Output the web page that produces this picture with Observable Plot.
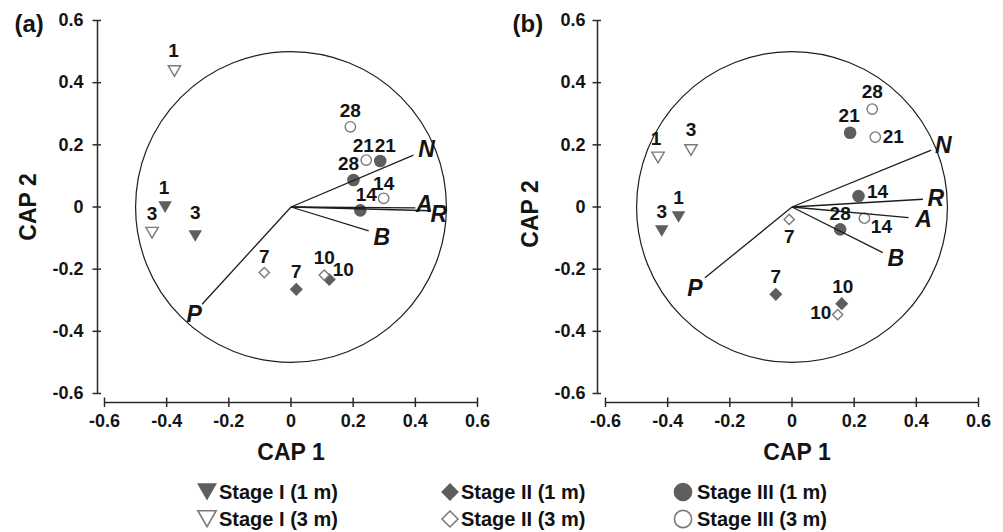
<!DOCTYPE html>
<html>
<head>
<meta charset="utf-8">
<script src="https://cdn.jsdelivr.net/npm/d3@7"></script>
<script src="https://cdn.jsdelivr.net/npm/@observablehq/plot@0.6"></script>
<style>
  html, body { margin: 0; padding: 0; background: #fff; }
  body { width: 1003px; height: 532px; overflow: hidden; font-family: 'Liberation Sans', Arial, Helvetica, sans-serif; }
  #row { display: flex; height: 470px; }
  #legend { position: relative; height: 62px; }
  .item { position: absolute; height: 24px; line-height: 24px; font-size: 20px; font-weight: bold; color: #111; white-space: nowrap; }
  .mk { position: absolute; }
</style>
</head>
<body>
<div id="row"></div>
<div id="legend"></div>
<script>
// ---------------- data ----------------
const groups = ["Stage I (1 m)", "Stage I (3 m)", "Stage II (1 m)", "Stage II (3 m)", "Stage III (1 m)", "Stage III (3 m)"];

const xTicks = [-0.6, -0.4, -0.2, 0, 0.2, 0.4, 0.6];
const xTickLabels = ["-0.6", "-0.4", "-0.2", "0", "0.2", "0.4", "0.6"];
const yTicks = [-0.6, -0.4, -0.2, 0, 0.2, 0.4, 0.6];
const yTickLabels = ["-0.6", "-0.4", "-0.2", "0", "0.2", "0.4", "0.6"];
const circleRadius = 0.5;
const vecNames = ["N", "A", "R", "B", "P"];

// panel (a)
const aGroup = ["Stage I (3 m)", "Stage I (1 m)", "Stage I (3 m)", "Stage I (1 m)",
  "Stage II (3 m)", "Stage II (1 m)", "Stage II (3 m)", "Stage II (1 m)",
  "Stage III (3 m)", "Stage III (3 m)", "Stage III (1 m)", "Stage III (1 m)", "Stage III (3 m)", "Stage III (1 m)"];
const aDay = ["1", "1", "3", "3", "7", "7", "10", "10", "28", "21", "21", "28", "14", "14"];
const aX = [-0.375, -0.405, -0.447, -0.308, -0.086, 0.017, 0.107, 0.123, 0.191, 0.242, 0.287, 0.201, 0.298, 0.223];
const aY = [0.443, 0.006, -0.077, -0.087, -0.211, -0.265, -0.219, -0.233, 0.258, 0.151, 0.148, 0.087, 0.028, -0.011];
const aVecX = [0.394, 0.400, 0.450, 0.250, -0.286];
const aVecY = [0.167, -0.003, -0.012, -0.077, -0.313];

// panel (b)
const bGroup = ["Stage I (3 m)", "Stage I (3 m)", "Stage I (1 m)", "Stage I (1 m)",
  "Stage II (3 m)", "Stage III (1 m)", "Stage III (3 m)", "Stage III (3 m)", "Stage III (1 m)",
  "Stage III (3 m)", "Stage III (1 m)", "Stage II (1 m)", "Stage II (1 m)", "Stage II (3 m)"];
const bDay = ["1", "3", "1", "3", "7", "21", "28", "21", "14", "14", "28", "7", "10", "10"];
const bX = [-0.431, -0.325, -0.365, -0.419, -0.009, 0.187, 0.258, 0.268, 0.214, 0.233, 0.155, -0.052, 0.160, 0.147];
const bY = [0.165, 0.189, -0.026, -0.071, -0.040, 0.239, 0.315, 0.225, 0.035, -0.036, -0.072, -0.281, -0.311, -0.346];
const bVecX = [0.448, 0.375, 0.421, 0.292, -0.280];
const bVecY = [0.183, -0.034, 0.025, -0.147, -0.228];

// ---------------- layout (label placement in pixels) ----------------
const aLabelDx = [-1, -1, 0, 0, 0, 0, 0, 14, 0, -3, 5, -5, 0, 6];
const aLabelDy = [-18, -17, -17, -21, -16, -17, -17, -10, -16, -14, -15, -16, -14, -16];
const aVecDx = [13, 9, 8, 13, -8];
const aVecDy = [-5, -3, 4, 7, 10];
const bLabelDx = [-2, 0, 0, 0, 0, -1, 0, 18, 19, 17, 0, 0, 1, -17];
const bLabelDy = [-17, -18, -17, -17, 17, -17, -17, 0, -4, 9, -15, -17, -17, -2];
const bVecDx = [12, 15, 13, 13, -10];
const bVecDy = [-4, 2, -1, 6, 11];

// ---------------- styles ----------------
const FONT = "'Liberation Sans', Arial, Helvetica, sans-serif";
const DARK = "#5e5e5e", OPEN = "#7a7a7a", INK = "#141414";
const sqrt3 = Math.sqrt(3);
const triangleDown = {
  draw(ctx, size) {
    const y = -Math.sqrt(size / (sqrt3 * 3));
    ctx.moveTo(0, -y * 2);
    ctx.lineTo(-sqrt3 * y, y);
    ctx.lineTo(sqrt3 * y, y);
    ctx.closePath();
  }
};
const hTick = { draw(ctx) { ctx.moveTo(-5, 0); ctx.lineTo(3.5, 0); } };
const vTick = { draw(ctx) { ctx.moveTo(0, -5); ctx.lineTo(0, 4.5); } };

const styles = {
  "Stage I (1 m)":   { symbol: triangleDown, d3sym: triangleDown, fill: DARK, stroke: "none", strokeWidth: 0, r: 5.0, lr: 7.4, ldy: -3 },
  "Stage I (3 m)":   { symbol: triangleDown, d3sym: triangleDown, fill: "white", stroke: OPEN, strokeWidth: 1.4, r: 4.6, lr: 6.8, ldy: -3 },
  "Stage II (1 m)":  { symbol: "diamond2", d3sym: d3.symbolDiamond2, fill: DARK, stroke: "none", strokeWidth: 0, r: 5.9, lr: 8.0, ldy: 0 },
  "Stage II (3 m)":  { symbol: "diamond2", d3sym: d3.symbolDiamond2, fill: "white", stroke: OPEN, strokeWidth: 1.4, r: 4.6, lr: 7.2, ldy: 0 },
  "Stage III (1 m)": { symbol: "circle", d3sym: d3.symbolCircle, fill: DARK, stroke: "none", strokeWidth: 0, r: 6.3, lr: 9.3, ldy: 0 },
  "Stage III (3 m)": { symbol: "circle", d3sym: d3.symbolCircle, fill: "white", stroke: OPEN, strokeWidth: 1.4, r: 5.2, lr: 8.6, ldy: 0 }
};

function panel(cfg) {
  const pts = cfg.group.map((g, i) => ({ g, day: cfg.day[i], x: cfg.x[i], y: cfg.y[i], dx: cfg.ldx[i], dy: cfg.ldy[i] }));
  const vecs = vecNames.map((n, i) => ({ n, x: cfg.vx[i], y: cfg.vy[i], dx: cfg.vdx[i], dy: cfg.vdy[i] }));
  const x0 = xTicks[0], x1 = xTicks[xTicks.length - 1];
  const y0 = yTicks[0], y1 = yTicks[yTicks.length - 1];
  const pxPerUnit = (cfg.width - cfg.ml - cfg.mr) / (x1 - x0);
  const axis = { stroke: "#2a2a2a", strokeWidth: 1.5 };
  const tickText = { fontSize: 18, fontWeight: "bold", fill: INK };

  const marks = [
    Plot.dot([{ x: 0, y: 0 }], { x: "x", y: "y", r: circleRadius * pxPerUnit, fill: "none", stroke: "#1e1e1e", strokeWidth: 1.2 }),
    // y axis
    Plot.ruleX([x0], { y1: y0, y2: y1, dx: cfg.axOffX, ...axis }),
    Plot.dot(yTicks, { x: () => x0, y: d => d, symbol: hTick, dx: cfg.axOffX, fill: "none", ...axis }),
    Plot.text(yTicks, { x: () => x0, y: d => d, text: (d, i) => yTickLabels[i], dx: cfg.axOffX - cfg.yLabGap, textAnchor: "end", ...tickText }),
    // x axis
    Plot.ruleY([y0], { x1: x0, x2: x1, dy: cfg.axOffY, ...axis }),
    Plot.dot(xTicks, { x: d => d, y: () => y0, symbol: vTick, dy: cfg.axOffY, fill: "none", ...axis }),
    Plot.text(xTicks, { x: d => d, y: () => y0, text: (d, i) => xTickLabels[i], dy: 28, ...tickText }),
    // titles
    Plot.text(["CAP 1"], { frameAnchor: "bottom", text: d => d, dx: cfg.t1dx, dy: 59, textAnchor: "middle", lineAnchor: "middle", fontSize: 23, fontWeight: "bold", fill: INK }),
    Plot.text(["CAP 2"], { frameAnchor: "left", text: d => d, rotate: -90, dx: cfg.t2dx, dy: cfg.t2dy, textAnchor: "middle", lineAnchor: "middle", fontSize: 23, fontWeight: "bold", fill: INK }),
    Plot.text([cfg.tag], { frameAnchor: "top-left", text: d => d, dx: cfg.tagX - cfg.ml, dy: 4, textAnchor: "start", lineAnchor: "middle", fontSize: 24, fontWeight: "bold", fill: INK })
  ];
  // points
  for (const g of groups) {
    const s = styles[g];
    marks.push(Plot.dot(pts.filter(p => p.g === g), {
      x: "x", y: "y", symbol: s.symbol, r: s.r, fill: s.fill, stroke: s.stroke, strokeWidth: s.strokeWidth
    }));
  }
  // vectors (drawn over points)
  marks.push(Plot.link(vecs, { x1: () => 0, y1: () => 0, x2: "x", y2: "y", stroke: "#1e1e1e", strokeWidth: 1.3 }));
  for (const v of vecs) {
    marks.push(Plot.text([v], { x: "x", y: "y", text: "n", dx: v.dx, dy: v.dy, fontSize: 23, fontWeight: "bold", fontStyle: "italic", fill: INK }));
  }
  for (const p of pts) {
    marks.push(Plot.text([p], { x: "x", y: "y", text: "day", dx: p.dx, dy: p.dy, fontSize: 19, fontWeight: "bold", fill: INK }));
  }

  return Plot.plot({
    width: cfg.width,
    height: 470,
    marginLeft: cfg.ml,
    marginRight: cfg.mr,
    marginTop: 20,
    marginBottom: 77,
    x: { domain: [x0, x1], axis: null },
    y: { domain: [y0, y1], axis: null },
    style: { fontFamily: FONT, background: "white", overflow: "visible" },
    marks
  });
}

const row = document.getElementById("row");
row.appendChild(panel({
  tag: "(a)", tagX: 14, width: 500, ml: 104, mr: 23, axOffX: -7, axOffY: 9, yLabGap: 14,
  t1dx: 0, t2dx: -76, t2dy: 0,
  group: aGroup, day: aDay, x: aX, y: aY, ldx: aLabelDx, ldy: aLabelDy,
  vx: aVecX, vy: aVecY, vdx: aVecDx, vdy: aVecDy
}));
row.appendChild(panel({
  tag: "(b)", tagX: 12, width: 503, ml: 105, mr: 25, axOffX: -8, axOffY: 9, yLabGap: 12,
  t1dx: 5, t2dx: -75, t2dy: 7,
  group: bGroup, day: bDay, x: bX, y: bY, ldx: bLabelDx, ldy: bLabelDy,
  vx: bVecX, vy: bVecY, vdx: bVecDx, vdy: bVecDy
}));

// ---------------- legend ----------------
const legend = document.getElementById("legend");
const legendCols = [207, 450, 683];   // marker centres
const legendTextX = [219, 461, 697];
const legendRows = [21.7, 49];
groups.forEach((g, i) => {
  const col = Math.floor(i / 2), rw = i % 2;
  const s = styles[g];
  const size = Math.PI * s.lr * s.lr;
  const B = 30;
  const svg = d3.create("svg").attr("class", "mk").attr("width", B).attr("height", B)
    .style("left", (legendCols[col] - B / 2) + "px").style("top", (legendRows[rw] - B / 2 + s.ldy) + "px");
  svg.append("path")
    .attr("d", d3.symbol(s.d3sym, size)())
    .attr("transform", `translate(${B / 2},${B / 2})`)
    .attr("fill", s.fill)
    .attr("stroke", s.stroke === "none" ? "none" : s.stroke)
    .attr("stroke-width", s.strokeWidth ? 1.6 : 0);
  legend.appendChild(svg.node());
  const t = document.createElement("div");
  t.className = "item";
  t.textContent = g;
  t.style.left = legendTextX[col] + "px";
  t.style.top = (legendRows[rw] - 12) + "px";
  legend.appendChild(t);
});
</script>
</body>
</html>
